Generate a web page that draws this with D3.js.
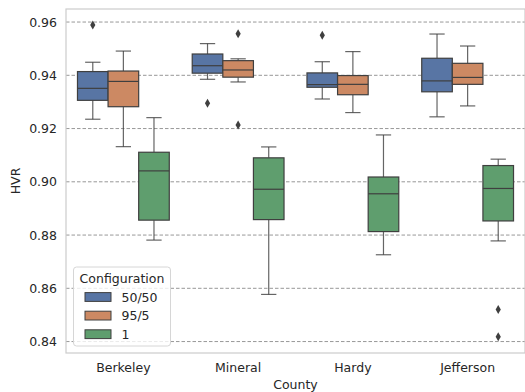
<!DOCTYPE html>
<html>
<head>
<meta charset="utf-8">
<script src="https://cdn.jsdelivr.net/npm/d3@7"></script>
<style>
  body { margin: 0; background: #fff; }
  text { font-family: 'DejaVu Sans', sans-serif; fill: #262626; }
</style>
</head>
<body>
<svg id="chart" width="525" height="392"></svg>
<script>
const counties = ["Berkeley", "Mineral", "Hardy", "Jefferson"];
const configs = ["50/50", "95/5", "1"];
const colors = ["#5875a4", "#cc8963", "#5f9e6e"];
const yTicks = [0.84, 0.86, 0.88, 0.90, 0.92, 0.94, 0.96];

// [lower whisker, q1, median, q3, upper whisker] per county
const stats5050 = [
  [0.9235, 0.9306, 0.9351, 0.9414, 0.9449],
  [0.9385, 0.9408, 0.9436, 0.9480, 0.9519],
  [0.9311, 0.9355, 0.9365, 0.9409, 0.9451],
  [0.9244, 0.9338, 0.9379, 0.9464, 0.9555]
];
const stats955 = [
  [0.9132, 0.9282, 0.9377, 0.9416, 0.9491],
  [0.9375, 0.9393, 0.9420, 0.9455, 0.9462],
  [0.9260, 0.9327, 0.9366, 0.9399, 0.9489],
  [0.9285, 0.9366, 0.9392, 0.9445, 0.9510]
];
const stats1 = [
  [0.8781, 0.8856, 0.9041, 0.9111, 0.9241],
  [0.8577, 0.8858, 0.8972, 0.9090, 0.9131],
  [0.8726, 0.8813, 0.8955, 0.9018, 0.9176],
  [0.8778, 0.8853, 0.8975, 0.9061, 0.9085]
];
// outliers: [county, config, value]
const outliers = [
  ["Berkeley", "50/50", 0.9589],
  ["Mineral", "50/50", 0.9295],
  ["Mineral", "95/5", 0.9556],
  ["Mineral", "95/5", 0.9213],
  ["Hardy", "50/50", 0.9550],
  ["Jefferson", "1", 0.8520],
  ["Jefferson", "1", 0.8418]
];

const allStats = [stats5050, stats955, stats1];
const svg = d3.select("#chart");
const margin = {left: 66, right: 0, top: 9, bottom: 39};
const W = 525, H = 392;
const fs = "12.5px";

const x = d3.scaleBand().domain(counties).range([margin.left, W - margin.right]);
const xHue = d3.scaleBand().domain(configs).range([0, x.bandwidth() * 0.8]);
const y = d3.scaleLinear().domain([0.8357, 0.9649]).range([H - margin.bottom, margin.top]);

// Grid lines
svg.append("g").selectAll("line").data(yTicks).join("line")
  .attr("x1", margin.left).attr("x2", W - margin.right)
  .attr("y1", d => y(d)).attr("y2", d => y(d))
  .attr("stroke", "#8c8c8c").attr("stroke-width", 0.9)
  .attr("stroke-dasharray", "3.5,2");

// Frame
svg.append("rect")
  .attr("x", margin.left).attr("y", margin.top)
  .attr("width", W - margin.right - margin.left)
  .attr("height", H - margin.bottom - margin.top)
  .attr("fill", "none").attr("stroke", "#cccccc").attr("stroke-width", 1.2);

// Y axis
const yAxis = svg.append("g")
  .attr("transform", `translate(${margin.left},0)`)
  .call(d3.axisLeft(y).tickValues(yTicks).tickFormat(d3.format(".2f")).tickSize(0).tickPadding(9));
yAxis.select(".domain").remove();
yAxis.selectAll("text").style("font-size", fs).attr("fill", "#262626");

// X axis
const xAxis = svg.append("g")
  .attr("transform", `translate(0,${H - margin.bottom})`)
  .call(d3.axisBottom(x).tickSize(0).tickPadding(10.5));
xAxis.select(".domain").remove();
xAxis.selectAll("text").style("font-size", fs).attr("fill", "#262626");

svg.append("text").attr("x", (margin.left + W) / 2).attr("y", 389)
  .attr("text-anchor", "middle").style("font-size", fs).text("County");
svg.append("text").attr("transform", `translate(20,${(margin.top + H - margin.bottom) / 2}) rotate(-90)`)
  .attr("text-anchor", "middle").style("font-size", fs).text("HVR");

// Boxes
const edge = "#3f3f3f";
const boxes = svg.append("g");
configs.forEach((cfg, ci) => {
  counties.forEach((c, i) => {
    const s = allStats[ci][i];
    const x0 = x(c) + x.bandwidth() * 0.1 + xHue(cfg);
    const bw = xHue.bandwidth();
    const cx = x0 + bw / 2;
    const g = boxes.append("g");
    g.append("line").attr("x1", cx).attr("x2", cx).attr("y1", y(s[0])).attr("y2", y(s[1]))
      .attr("stroke", edge).attr("stroke-width", 1.2).attr("stroke-opacity", 0.8);
    g.append("line").attr("x1", cx).attr("x2", cx).attr("y1", y(s[3])).attr("y2", y(s[4]))
      .attr("stroke", edge).attr("stroke-width", 1.2).attr("stroke-opacity", 0.8);
    [s[0], s[4]].forEach(v => {
      g.append("line").attr("x1", cx - bw / 4).attr("x2", cx + bw / 4).attr("y1", y(v)).attr("y2", y(v))
        .attr("stroke", edge).attr("stroke-width", 1.2).attr("stroke-opacity", 0.8);
    });
    g.append("rect").attr("x", x0).attr("width", bw)
      .attr("y", y(s[3])).attr("height", y(s[1]) - y(s[3]))
      .attr("fill", colors[ci]).attr("stroke", edge).attr("stroke-width", 1.2);
    g.append("line").attr("x1", x0).attr("x2", x0 + bw).attr("y1", y(s[2])).attr("y2", y(s[2]))
      .attr("stroke", edge).attr("stroke-width", 1.2);
  });
});

// Outliers (diamonds)
svg.append("g").selectAll("path").data(outliers).join("path")
  .attr("d", "M0,-4.5L2.6,0L0,4.5L-2.6,0Z")
  .attr("transform", d => `translate(${x(d[0]) + x.bandwidth() * 0.1 + xHue(d[1]) + xHue.bandwidth() / 2},${y(d[2])})`)
  .attr("fill", edge);

// Legend
const lg = svg.append("g").attr("transform", "translate(73.5,267)");
lg.append("rect").attr("width", 97).attr("height", 79).attr("rx", 3)
  .attr("fill", "#fff").attr("fill-opacity", 0.8).attr("stroke", "#d6d6d6");
lg.append("text").attr("x", 48.5).attr("y", 15.5).attr("text-anchor", "middle")
  .style("font-size", fs).text("Configuration");
configs.forEach((cfg, i) => {
  const yy = 30 + i * 18.6;
  lg.append("rect").attr("x", 11.5).attr("y", yy - 4.4).attr("width", 26).attr("height", 8.8)
    .attr("fill", colors[i]).attr("stroke", edge).attr("stroke-width", 1);
  lg.append("text").attr("x", 48).attr("y", yy + 4.5).style("font-size", fs).text(cfg);
});
</script>
</body>
</html>
